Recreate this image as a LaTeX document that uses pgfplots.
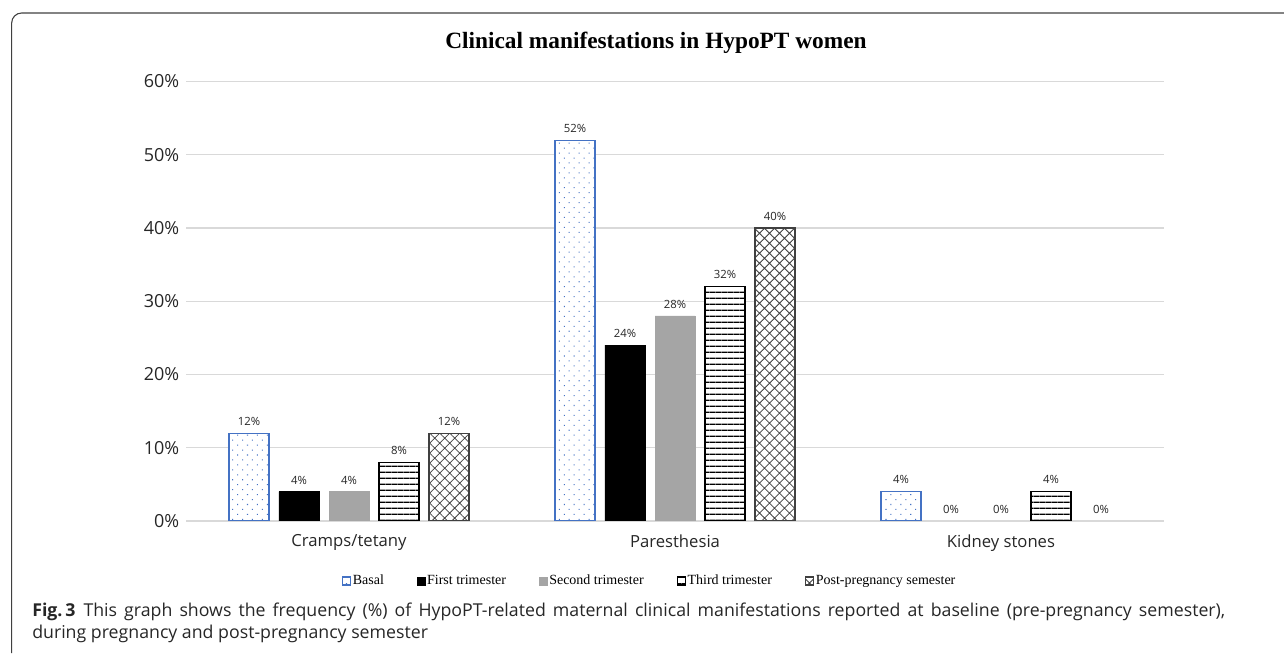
\documentclass[border=0pt]{standalone}
\usepackage{fontspec}
\setmainfont{Open Sans}
\newfontfamily\serif{Liberation Serif}
\usepackage{pgfplots}
\pgfplotsset{compat=1.18}
\usetikzlibrary{patterns.meta}
\definecolor{basalblue}{HTML}{4472C4}
\definecolor{gridc}{HTML}{D9D9D9}
\definecolor{secgray}{HTML}{A5A5A5}
\definecolor{txt}{HTML}{262626}
\definecolor{framec}{HTML}{404040}
\begin{document}
\begin{tikzpicture}
\useasboundingbox (0pt,0pt) rectangle (963pt,489.75pt);
\draw[line width=0.8pt, framec, rounded corners=7.5pt] (8.75pt,0pt) |- (963pt,480pt);
\node[anchor=base, font=\serif\bfseries\fontsize{17.5}{20}\selectfont] at (492pt,453.5pt) {Clinical manifestations in HypoPT women};
\begin{axis}[
  at={(139.5pt,99pt)}, anchor=south west,
  scale only axis, width=733.5pt, height=329.6pt,
  ybar, bar width=0.1227,
  xmin=-0.5, xmax=2.5, ymin=0, ymax=60,
  xtick={0,1,2},
  xticklabels={Cramps/tetany,Paresthesia,Kidney stones},
  ytick={0,10,...,60},
  yticklabel={\pgfmathprintnumber{\tick}\%},
  /pgf/number format/assume math mode=true,
  major tick length=0pt,
  axis line style={draw=none},
  ymajorgrids, grid style={gridc, line width=0.8pt},
  yticklabel style={font=\fontsize{13.5}{16}\selectfont, text=txt, xshift=-1.5pt},
  xticklabel style={font=\fontsize{12.5}{15}\selectfont, text=txt, yshift=-6.5pt},
  nodes near coords={\pgfmathprintnumber{\pgfplotspointmeta}\%},
  nodes near coords style={font=\fontsize{8.5}{10}\selectfont, text=txt, yshift=2pt},
  legend columns=5,
  legend cell align=left,
  legend image code/.code={\draw[#1] (0pt,-3pt) rectangle (6pt,3pt);},
  legend style={at={(0.474,-0.1365)}, anchor=center, draw=none,
    font=\serif\fontsize{10.5}{12}\selectfont,
    nodes={inner xsep=1pt},
    /tikz/every even column/.append style={column sep=24pt}},
]
\addplot[bar shift=-0.3067, draw=basalblue, line width=0.8pt, fill=white,
  postaction={pattern={Dots[distance=5.25pt, radius=0.55pt, angle=45]}, pattern color=basalblue}]
  coordinates {(0,12) (1,52) (2,4)};
\addlegendentry{Basal}
\addplot[bar shift=-0.1534, draw=black, fill=black]
  coordinates {(0,4) (1,24)};
\addlegendentry{First trimester}
\addplot[bar shift=0, draw=secgray, fill=secgray]
  coordinates {(0,4) (1,28)};
\addlegendentry{Second trimester}
\addplot[bar shift=0.1534, draw=black, line width=0.9pt, fill=white,
  postaction={pattern={Lines[distance=4.35pt, angle=0, line width=0.9pt]}, pattern color=black}]
  coordinates {(0,8) (1,32) (2,4)};
\addlegendentry{Third trimester}
\addplot[bar shift=0.3067, draw=framec, line width=0.9pt, fill=white,
  postaction={pattern={Hatch[distance=5.3pt, angle=45, line width=0.6pt]}, pattern color=framec}]
  coordinates {(0,12) (1,40)};
\addlegendentry{Post-pregnancy semester}
% zero-valued bars (labels only)
\addplot[forget plot, bar shift=-0.1534, draw=none, fill=none] coordinates {(2,0)};
\addplot[forget plot, bar shift=0, draw=none, fill=none] coordinates {(2,0)};
\addplot[forget plot, bar shift=0.3067, draw=none, fill=none] coordinates {(2,0)};
\end{axis}
\node[anchor=base west, inner sep=0pt, font=\fontsize{13.3}{16}\selectfont, text=txt] at (24pt,27.75pt)
  {\hbox to 894.75pt{\textbf{Fig.\,3}\hspace{0.45em}This graph shows the frequency (\%) of HypoPT-related maternal clinical manifestations reported at baseline (pre-pregnancy semester),}};
\node[anchor=base west, inner sep=0pt, font=\fontsize{13.3}{16}\selectfont, text=txt] at (24pt,11.25pt)
  {during pregnancy and post-pregnancy semester};
\end{tikzpicture}
\end{document}
